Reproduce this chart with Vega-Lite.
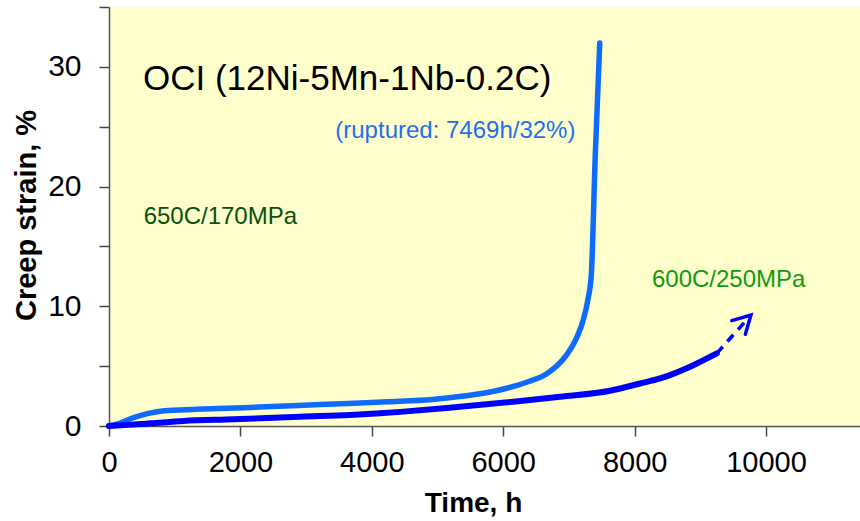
{
  "$schema": "https://vega.github.io/schema/vega-lite/v6.json",
  "width": 751,
  "height": 419,
  "autosize": {"type": "none"},
  "padding": {"left": 109, "top": 7, "right": 0, "bottom": 95},
  "background": "white",
  "view": {"fill": "#FFFFCC", "stroke": null},
  "config": {
    "font": "Liberation Sans",
    "axis": {
      "labelFont": "Liberation Sans",
      "titleFont": "Liberation Sans",
      "labelColor": "#000000",
      "titleColor": "#000000",
      "domainColor": "#555555",
      "domainWidth": 1.5,
      "tickColor": "#444444",
      "tickWidth": 1.5,
      "tickSize": 10,
      "grid": false,
      "labelFlush": false,
      "labelOverlap": false
    }
  },
  "datasets": {
    "c650": [
      {"t": 0, "s": 0},
      {"t": 150, "s": 0.2},
      {"t": 356, "s": 0.67},
      {"t": 601, "s": 1.06},
      {"t": 844, "s": 1.28},
      {"t": 1329, "s": 1.39},
      {"t": 2057, "s": 1.53},
      {"t": 2785, "s": 1.7},
      {"t": 3513, "s": 1.86},
      {"t": 4242, "s": 2.03},
      {"t": 4921, "s": 2.22},
      {"t": 5400, "s": 2.5},
      {"t": 5891, "s": 2.94},
      {"t": 6377, "s": 3.7},
      {"t": 6668, "s": 4.39},
      {"t": 6959, "s": 5.9},
      {"t": 7120, "s": 7.4},
      {"t": 7220, "s": 8.9},
      {"t": 7290, "s": 10.6},
      {"t": 7340, "s": 12.6},
      {"t": 7400, "s": 22.5},
      {"t": 7469, "s": 32}
    ],
    "c600": [
      {"t": 0, "s": 0},
      {"t": 300, "s": 0.1},
      {"t": 628, "s": 0.22},
      {"t": 1135, "s": 0.42},
      {"t": 1896, "s": 0.56},
      {"t": 2910, "s": 0.78},
      {"t": 3671, "s": 0.92},
      {"t": 4127, "s": 1.06},
      {"t": 4432, "s": 1.18},
      {"t": 5142, "s": 1.5},
      {"t": 6155, "s": 2.03},
      {"t": 6866, "s": 2.45},
      {"t": 7626, "s": 2.95},
      {"t": 8083, "s": 3.55},
      {"t": 8387, "s": 3.97},
      {"t": 8894, "s": 5.08},
      {"t": 9250, "s": 6.06}
    ],
    "trend600": [
      {"t": 9250, "s": 6.06},
      {"t": 9770, "s": 9.27}
    ],
    "tip600": [
      {"t": 9770, "s": 9.27}
    ]
  },
  "encoding": {
    "x": {
      "field": "t",
      "type": "quantitative",
      "scale": {"domain": [0, 11430], "nice": false, "zero": true},
      "axis": {
        "values": [0, 2000, 4000, 6000, 8000, 10000],
        "format": "d",
        "labelFontSize": 29,
        "labelPadding": 12,
        "title": "Time, h",
        "titleFontSize": 28,
        "titleFontWeight": "bold",
        "titleX": 364,
        "titleY": 85,
        "titleAlign": "center",
        "titleBaseline": "alphabetic"
      }
    },
    "y": {
      "field": "s",
      "type": "quantitative",
      "scale": {"domain": [0, 35], "nice": false},
      "axis": {
        "values": [0, 5, 10, 15, 20, 25, 30, 35],
        "labelExpr": "datum.value % 10 === 0 ? datum.label : ''",
        "labelFontSize": 30,
        "labelPadding": 18,
        "title": "Creep strain, %",
        "titleFontSize": 29,
        "titleFontWeight": "bold",
        "titleAngle": -90,
        "titleX": -74,
        "titleY": 208,
        "titleAlign": "center",
        "titleBaseline": "alphabetic"
      }
    }
  },
  "layer": [
    {
      "mark": {"type": "rule", "color": "#555555", "strokeWidth": 1.5},
      "encoding": {"y": {"datum": 35}, "x": null}
    },
    {
      "data": {"name": "c650"},
      "mark": {"type": "line", "color": "#0F6BFF", "strokeWidth": 5.5, "strokeCap": "round", "strokeJoin": "round", "interpolate": "monotone"}
    },
    {
      "data": {"name": "c600"},
      "mark": {"type": "line", "color": "#0000FF", "strokeWidth": 6, "strokeCap": "round", "strokeJoin": "round", "interpolate": "monotone"}
    },
    {
      "data": {"name": "trend600"},
      "mark": {"type": "line", "color": "#0000FF", "strokeWidth": 3.5, "strokeDash": [9, 7]}
    },
    {
      "data": {"name": "tip600"},
      "mark": {"type": "point", "shape": "M -0.55 1 L 0 0 L 0.55 1", "size": 1225, "angle": 45, "filled": false, "color": "#0000FF", "strokeWidth": 3.5, "opacity": 1, "strokeCap": "round"}
    },
    {
      "data": {"values": [{"t": 517, "s": 28.07, "label": "OCI (12Ni-5Mn-1Nb-0.2C)"}]},
      "mark": {"type": "text", "align": "left", "baseline": "alphabetic", "fontSize": 35, "color": "#000000"},
      "encoding": {"text": {"field": "label"}}
    },
    {
      "data": {"values": [{"t": 3444, "s": 24.03, "label": "(ruptured: 7469h/32%)"}]},
      "mark": {"type": "text", "align": "left", "baseline": "alphabetic", "fontSize": 24, "color": "#1F6FF0"},
      "encoding": {"text": {"field": "label"}}
    },
    {
      "data": {"values": [{"t": 527, "s": 16.85, "label": "650C/170MPa"}]},
      "mark": {"type": "text", "align": "left", "baseline": "alphabetic", "fontSize": 24, "color": "#0B4F0B"},
      "encoding": {"text": {"field": "label"}}
    },
    {
      "data": {"values": [{"t": 8264, "s": 11.59, "label": "600C/250MPa"}]},
      "mark": {"type": "text", "align": "left", "baseline": "alphabetic", "fontSize": 24, "color": "#129912"},
      "encoding": {"text": {"field": "label"}}
    }
  ]
}
